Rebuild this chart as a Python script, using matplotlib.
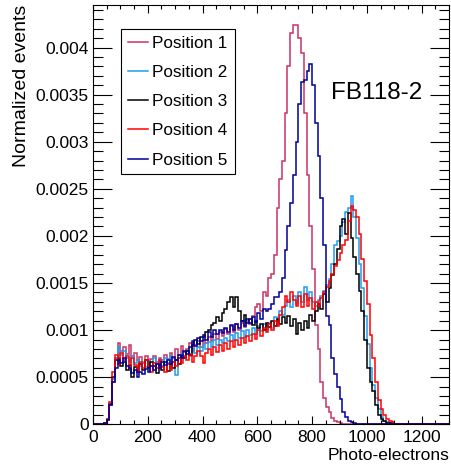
import numpy as np
import matplotlib
matplotlib.use("Agg")
import matplotlib.pyplot as plt
from matplotlib.ticker import MultipleLocator, FuncFormatter

plt.rcParams["font.family"] = ["Liberation Sans", "DejaVu Sans"]

BIN_WIDTH = 10
FIRST_BIN = 40
X_MAX = 1300

labels = ["Position 1", "Position 2", "Position 3", "Position 4", "Position 5"]
colors = ["#cc3366", "#1e9cf0", "#000000", "#ff0000", "#00009a"]

# normalized events, in units of 1e-4, bins 40..1090
pos1 = [0.1, 0.5, 2.0, 4.5, 7.0, 8.6, 7.8, 8.2, 7.5, 8.4,
        7.2, 7.6, 6.8, 7.1, 6.5, 7.3, 6.6, 6.9, 7.2, 6.6,
        7.0, 6.8, 7.4, 6.9, 7.6, 7.0, 8.0, 7.4, 8.3, 7.7,
        8.0, 8.6, 7.8, 8.4, 8.8, 8.2, 9.0, 8.6, 9.3, 8.8,
        9.6, 9.1, 9.8, 9.4, 10.1, 9.6, 10.4, 9.8, 10.6, 10.0,
        10.8, 10.3, 11.0, 10.6, 11.5, 12.5, 12.8, 12.0, 14.0, 13.6,
        15.5, 16.0, 18.0, 23.0, 26.0, 28.0, 33.0, 38.0, 41.5, 42.4,
        42.4, 41.0, 39.4, 33.0, 26.5, 21.0, 16.5, 10.5, 8.0, 4.5,
        2.8, 1.8, 1.3, 0.7, 0.4, 0.25, 0.1, 0.05, 0, 0,
        0, 0, 0, 0, 0, 0, 0, 0, 0, 0,
        0, 0, 0, 0, 0, 0]
pos2 = [0.1, 0.5, 2.0, 4.8, 7.0, 8.2, 7.4, 7.8, 7.0, 6.6,
        7.2, 6.5, 6.8, 6.2, 6.6, 6.1, 6.7, 6.2, 7.0, 6.4,
        6.8, 6.2, 7.0, 6.5, 7.2, 6.6, 5.2, 7.0, 7.5, 7.1,
        7.8, 7.3, 8.0, 7.6, 8.2, 7.8, 8.5, 8.0, 8.7, 8.2,
        8.9, 8.4, 9.0, 8.6, 9.2, 8.8, 9.5, 9.0, 9.7, 9.2,
        9.9, 9.3, 10.0, 9.5, 10.2, 9.6, 10.4, 9.9, 10.6, 10.0,
        10.8, 10.2, 11.4, 11.0, 12.0, 11.6, 12.6, 13.2, 12.4, 13.6,
        12.8, 14.0, 13.0, 14.6, 13.2, 14.0, 13.0, 12.6, 13.2, 13.6,
        14.2, 14.8, 15.4, 17.0, 19.0, 19.5, 20.0, 21.5, 22.5, 23.0,
        24.2, 22.0, 19.8, 17.0, 14.5, 11.5, 8.5, 6.0, 4.2, 2.8,
        1.6, 0.8, 0.4, 0.2, 0.1, 0.05]
pos3 = [0.1, 0.6, 2.2, 5.0, 6.8, 7.0, 6.2, 6.6, 5.8, 6.3,
        5.0, 6.1, 5.5, 6.4, 5.8, 6.8, 6.0, 6.6, 6.2, 5.4,
        6.3, 5.8, 6.6, 5.7, 6.4, 6.0, 6.8, 6.4, 7.2, 7.0,
        7.8, 7.4, 8.4, 9.0, 8.5, 9.3, 9.3, 9.8, 10.0, 10.5,
        10.8, 11.4, 11.0, 11.8, 12.2, 13.0, 13.5, 12.4, 13.5, 12.0,
        11.0, 11.6, 10.8, 11.2, 10.5, 11.0, 10.2, 10.6, 10.0, 10.8,
        10.3, 11.0, 10.4, 11.2, 10.6, 11.4, 10.8, 11.5, 10.4, 11.2,
        9.6, 10.8, 10.0, 11.0, 10.2, 11.6, 11.0, 12.0, 12.8, 12.2,
        13.8, 13.0, 14.5, 15.8, 17.0, 18.6, 21.0, 21.8, 20.2, 22.4,
        19.8, 17.8, 16.0, 14.2, 12.0, 9.0, 6.0, 4.5, 3.5, 2.0,
        1.0, 0.6, 0.3, 0.15, 0.1, 0.05]
pos4 = [0.1, 0.6, 2.4, 5.5, 7.4, 6.4, 7.6, 6.8, 7.2, 6.0,
        7.0, 6.3, 5.6, 6.6, 6.0, 6.8, 6.2, 5.6, 6.5, 6.0,
        6.8, 6.1, 5.5, 6.4, 5.8, 6.6, 6.2, 7.0, 6.5, 7.2,
        6.8, 7.5, 6.6, 7.2, 7.8, 7.3, 6.5, 7.6, 8.0, 7.4,
        8.2, 7.7, 8.4, 7.8, 8.6, 8.0, 8.8, 8.2, 8.9, 8.4,
        9.2, 8.6, 9.4, 8.8, 9.6, 9.1, 10.0, 9.4, 10.2, 9.8,
        10.6, 10.0, 11.0, 10.4, 11.6, 12.4, 13.6, 13.0, 14.0, 13.2,
        12.6, 13.6, 12.4, 13.8, 12.6, 13.4, 12.2, 13.0, 12.6, 13.4,
        14.0, 14.6, 15.2, 16.0, 16.8, 17.4, 18.2, 19.0, 19.6, 21.6,
        23.2, 22.8, 22.0, 20.2, 17.5, 15.2, 12.8, 9.5, 7.0, 4.5,
        2.6, 1.6, 1.0, 0.6, 0.4, 0.2]
pos5 = [0.1, 0.5, 2.0, 4.5, 6.0, 6.8, 6.5, 7.0, 6.2, 6.0,
        5.4, 5.8, 5.0, 5.6, 5.3, 5.9, 5.6, 6.2, 5.8, 6.4,
        6.0, 6.6, 6.3, 6.8, 6.4, 7.1, 6.8, 7.4, 7.0, 7.8,
        7.5, 8.2, 8.8, 8.3, 9.2, 8.8, 9.5, 9.0, 9.8, 9.3,
        10.0, 9.6, 10.0, 9.7, 10.2, 9.8, 10.5, 10.0, 10.6, 10.2,
        11.0, 10.4, 11.2, 10.8, 11.4, 10.9, 11.8, 11.2, 12.2, 12.0,
        12.2, 12.8, 13.5, 13.5, 14.0, 15.5, 18.5, 21.0, 23.5, 26.5,
        30.0, 34.0, 36.3, 36.5, 37.5, 38.3, 36.0, 32.0, 28.5, 24.0,
        19.0, 11.5, 10.5, 7.0, 5.3, 4.0, 2.7, 1.3, 0.8, 0.4,
        0.2, 0.1, 0.05, 0, 0, 0, 0, 0, 0, 0,
        0, 0, 0, 0, 0, 0]

series = [pos1, pos2, pos3, pos4, pos5]
edges = np.arange(0, X_MAX + BIN_WIDTH, BIN_WIDTH)
start = FIRST_BIN // BIN_WIDTH

fig = plt.figure(figsize=(4.51, 4.66), dpi=100)
ax = fig.add_axes([0.206, 0.0895, 0.790, 0.8995])

for vals, col, lab in zip(series, colors, labels):
    counts = np.zeros(len(edges) - 1)
    counts[start:start + len(vals)] = np.array(vals) * 1e-4
    ax.stairs(counts, edges, color=col, lw=1.1, label=lab, baseline=0)

ax.set_xlim(0, X_MAX)
ax.set_ylim(0, 0.00445)

ax.xaxis.set_major_locator(MultipleLocator(200))
ax.xaxis.set_minor_locator(MultipleLocator(50))
ax.yaxis.set_major_locator(MultipleLocator(0.0005))
ax.yaxis.set_minor_locator(MultipleLocator(0.0001))
ax.yaxis.set_major_formatter(FuncFormatter(lambda v, p: "%g" % round(v, 6)))

ax.tick_params(axis="both", which="both", direction="in", top=True, right=True,
               labelsize=12.5, width=0.8)
ax.tick_params(axis="y", which="major", length=14, pad=3)
ax.tick_params(axis="y", which="minor", length=7)
ax.tick_params(axis="x", which="major", length=6, pad=4)
ax.tick_params(axis="x", which="minor", length=3)

ax.set_xlabel("Photo-electrons", loc="right", fontsize=12.5, labelpad=2)
ax.set_ylabel("Normalized events", loc="top", fontsize=14, labelpad=4)

ax.text(0.795, 0.79, "FB118-2", transform=ax.transAxes, fontsize=17.5,
        ha="center", va="center")

# ROOT-style legend box: fixed width, entries left aligned
leg = ax.legend(loc="upper left", bbox_to_anchor=(0.078, 0.60, 0.322, 0.343),
                mode="expand", borderaxespad=0,
                fancybox=False, framealpha=1, edgecolor="black", fontsize=12.3,
                handlelength=1.2, handletextpad=0.25, labelspacing=0.83,
                borderpad=0.4)
leg.get_frame().set_linewidth(0.8)
for line in leg.get_lines():
    line.set_linewidth(1.1)

fig.savefig("out.png", dpi=100)
